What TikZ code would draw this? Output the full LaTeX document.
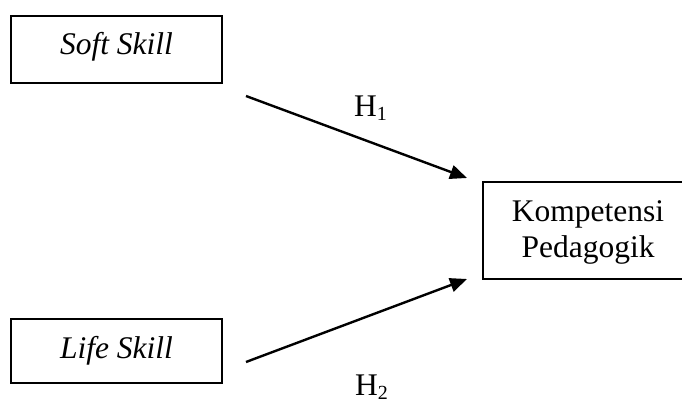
\documentclass[tikz,border=0pt]{standalone}
\usepackage{fontspec}
\setmainfont{Liberation Serif}
\usetikzlibrary{arrows.meta}
\tikzset{
  boxnode/.style={draw=black, line width=1.3pt, rectangle, inner sep=0pt},
  boxline/.style={draw=black, line width=1.3pt},
  txt/.style={anchor=base, inner sep=0pt, font=\fontsize{31.5}{36}\selectfont},
  conn/.style={line width=2.4pt, -{Triangle[length=17pt,width=14pt]}}
}
\begin{document}
\begin{tikzpicture}[x=1pt,y=-1pt]
\useasboundingbox (0,0) rectangle (682,403);
\node[boxnode, minimum width=211pt, minimum height=67pt] (soft) at (116.5,49.5) {};
\node[boxnode, minimum width=211pt, minimum height=64pt] (life) at (116.5,351) {};
\coordinate (kompTR) at (682,182);
\coordinate (kompTL) at (483,182);
\coordinate (kompBL) at (483,279);
\coordinate (kompBR) at (682,279);
\draw[boxline] (kompTR) -- (kompTL) -- (kompBL) -- (kompBR);
\node[txt] (kompA) at (588,221.7) {Kompetensi};
\node[txt] (kompB) at (588,258) {Pedagogik};
\node[txt] (softtxt) at (116.5,55) {\textit{Soft Skill}};
\node[txt] (lifetxt) at (116.5,358) {\textit{Life Skill}};
\coordinate (a1s) at (246,96);
\coordinate (a1e) at (467,178);
\coordinate (a2s) at (246,362);
\coordinate (a2e) at (467,279);
\draw[conn] (a1s) -- (a1e);
\draw[conn] (a2s) -- (a2e);
\node[txt, anchor=base west] (h1) at (354,116.5) {H\raisebox{-4pt}{\fontsize{20}{20}\selectfont 1}};
\node[txt, anchor=base west] (h2) at (355,395) {H\raisebox{-4pt}{\fontsize{20}{20}\selectfont 2}};
\end{tikzpicture}
\end{document}
